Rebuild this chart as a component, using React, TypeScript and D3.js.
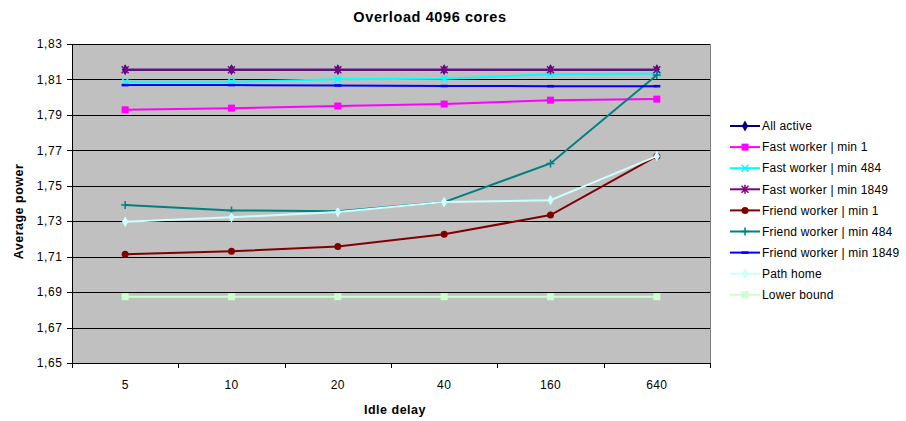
import React from 'react';
import * as d3 from 'd3';

const categories = ['5', '10', '20', '40', '160', '640'];
const yTicks = [1.65, 1.67, 1.69, 1.71, 1.73, 1.75, 1.77, 1.79, 1.81, 1.83];

const allActive = [1.8155, 1.8155, 1.8155, 1.8155, 1.8155, 1.8155];
const fastMin1 = [1.7929, 1.7938, 1.795, 1.7961, 1.7983, 1.7989];
const fastMin484 = [1.8087, 1.8087, 1.8101, 1.8104, 1.813, 1.8134];
const fastMin1849 = [1.8155, 1.8155, 1.8155, 1.8155, 1.8155, 1.8155];
const friendMin1 = [1.7113, 1.713, 1.7158, 1.7226, 1.7335, 1.7667];
const friendMin484 = [1.7391, 1.7361, 1.7356, 1.7408, 1.7626, 1.8125];
const friendMin1849 = [1.8068, 1.8068, 1.8066, 1.8063, 1.8062, 1.8062];
const pathHome = [1.7297, 1.7322, 1.7352, 1.7408, 1.7419, 1.7667];
const lowerBound = [1.6874, 1.6874, 1.6874, 1.6874, 1.6874, 1.6874];

const series = [
  { name: 'All active', values: allActive, color: '#000080', marker: 'diamond' },
  { name: 'Fast worker | min 1', values: fastMin1, color: '#FF00FF', marker: 'square' },
  { name: 'Fast worker | min 484', values: fastMin484, color: '#00FFFF', marker: 'x' },
  { name: 'Fast worker | min 1849', values: fastMin1849, color: '#800080', marker: 'star' },
  { name: 'Friend worker | min 1', values: friendMin1, color: '#800000', marker: 'circle' },
  { name: 'Friend worker | min 484', values: friendMin484, color: '#008080', marker: 'plus' },
  { name: 'Friend worker | min 1849', values: friendMin1849, color: '#0000FF', marker: 'dash' },
  { name: 'Path home', values: pathHome, color: '#CCFFFF', marker: 'diamond' },
  { name: 'Lower bound', values: lowerBound, color: '#CCFFCC', marker: 'square' },
];

const font = '"Liberation Sans", Arial, sans-serif';

const Marker = ({ type, color, x, y }: { type: string; color: string; x: number; y: number }) => {
  const t = `translate(${x},${y})`;
  if (type === 'diamond')
    return <path transform={t} d={d3.symbol(d3.symbolDiamond, 34)()!} fill={color} />;
  if (type === 'square') return <rect x={x - 3.5} y={y - 3.5} width={7} height={7} fill={color} />;
  if (type === 'circle') return <circle cx={x} cy={y} r={3.5} fill={color} />;
  if (type === 'x')
    return <path transform={t} d="M-3.5,-3.5L3.5,3.5M-3.5,3.5L3.5,-3.5" stroke={color} strokeWidth={1.5} fill="none" />;
  if (type === 'plus')
    return <path transform={t} d="M-4,0H4M0,-4V4" stroke={color} strokeWidth={1.5} fill="none" />;
  if (type === 'star')
    return (
      <path
        transform={t}
        d="M-3.5,-3.5L3.5,3.5M-3.5,3.5L3.5,-3.5M0,-4.5V4.5"
        stroke={color}
        strokeWidth={1.5}
        fill="none"
      />
    );
  if (type === 'dash') return <path transform={t} d="M-3.5,0H3.5" stroke={color} strokeWidth={2.5} />;
  return null;
};

export default function App() {
  const width = 906,
    height = 421;
  const left = 72,
    right = 710,
    top = 44,
    bottom = 363;

  const x = d3.scaleBand().domain(categories).range([left, right]);
  const y = d3.scaleLinear().domain([1.65, 1.83]).range([bottom, top]);
  const cx = (i: number) => x(categories[i])! + x.bandwidth() / 2;
  const fmt = (v: number) => d3.format('.2f')(v).replace('.', ',');

  const line = d3
    .line<number>()
    .x((_, i) => cx(i))
    .y((d) => y(d));

  return (
    <svg width={width} height={height} style={{ position: 'absolute', left: 0, top: 0, background: '#fff' }} fontFamily={font}>
      <text x={430} y={22} textAnchor="middle" fontSize={14.5} fontWeight="bold" letterSpacing={0.6}>
        Overload 4096 cores
      </text>

      <rect x={left} y={top} width={right - left} height={bottom - top} fill="#C0C0C0" stroke="#808080" strokeWidth={1} shapeRendering="crispEdges" />

      {yTicks.slice(1).map((t) => (
        <line key={t} x1={left} x2={right} y1={Math.round(y(t)) + 0.5} y2={Math.round(y(t)) + 0.5} stroke="#000" strokeWidth={1} />
      ))}

      <line x1={left + 0.5} x2={left + 0.5} y1={top} y2={bottom} stroke="#000" />
      <line x1={left} x2={right} y1={bottom + 0.5} y2={bottom + 0.5} stroke="#000" />

      {yTicks.map((t) => (
        <g key={t}>
          <line x1={left - 5} x2={left} y1={Math.round(y(t)) + 0.5} y2={Math.round(y(t)) + 0.5} stroke="#000" />
          <text x={left - 9.5} y={y(t)} dy="0.35em" textAnchor="end" fontSize={12} letterSpacing={0.6}>
            {fmt(t)}
          </text>
        </g>
      ))}

      {categories.map((c, i) => (
        <text key={c} x={cx(i)} y={bottom + 26} textAnchor="middle" fontSize={12} letterSpacing={0.4}>
          {c}
        </text>
      ))}
      {[...categories.map((c) => x(c)!), right].map((v, i) => (
        <line key={i} x1={Math.round(v) + 0.5} x2={Math.round(v) + 0.5} y1={bottom} y2={bottom + 5} stroke="#000" />
      ))}

      <text x={395} y={414} textAnchor="middle" fontSize={12.5} fontWeight="bold" letterSpacing={0.5}>
        Idle delay
      </text>
      <text transform={`translate(23,${(top + bottom) / 2 + 8}) rotate(-90)`} textAnchor="middle" fontSize={12.5} fontWeight="bold" letterSpacing={0.5}>
        Average power
      </text>

      {series.map((s) => (
        <g key={s.name}>
          <path d={line(s.values)!} fill="none" stroke={s.color} strokeWidth={2} />
          {s.values.map((v, i) => (
            <Marker key={i} type={s.marker} color={s.color} x={cx(i)} y={y(v)} />
          ))}
        </g>
      ))}

      {series.map((s, i) => {
        const ly = 126 + i * 21.1;
        return (
          <g key={s.name}>
            <line x1={730} x2={760} y1={ly} y2={ly} stroke={s.color} strokeWidth={2} />
            <Marker type={s.marker} color={s.color} x={745} y={ly} />
            <text x={762} y={ly} dy="0.35em" fontSize={12} letterSpacing={0.2}>
              {s.name}
            </text>
          </g>
        );
      })}
    </svg>
  );
}
